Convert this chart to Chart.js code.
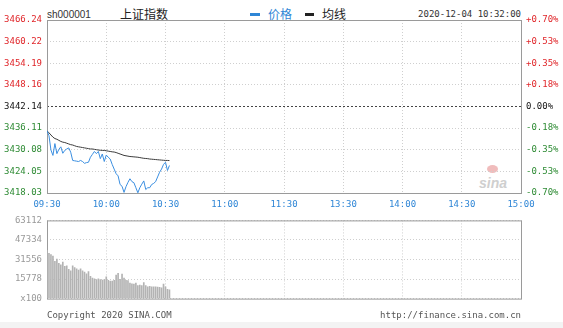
<!DOCTYPE html>
<html>
<head>
<meta charset="utf-8">
<script src="https://cdn.jsdelivr.net/npm/chart.js@4.4.0/dist/chart.umd.min.js"></script>
<style>
  body { margin: 0; width: 563px; height: 328px; background: #fff; position: relative; overflow: hidden; }
  canvas { position: absolute; left: 0; }
  .t { position: absolute; white-space: nowrap; line-height: 1; }
  .mono { font-family: 'DejaVu Sans Mono', monospace; font-size: 9px; }
</style>
</head>
<body>
<div class="t" style="left:47px;top:10px;font-family:'Liberation Sans';font-size:10px;color:#333">sh000001</div>
<div class="t" style="left:120px;top:8px;font-family:'Noto Sans CJK SC';font-size:12px;color:#222">上证指数</div>
<div class="t" style="left:250px;top:13px;width:10px;height:3px;background:#2f86d6"></div>
<div class="t" style="left:268px;top:8px;font-family:'Noto Sans CJK SC';font-size:12px;color:#2f86d6">价格</div>
<div class="t" style="left:305px;top:13px;width:9px;height:3px;background:#222"></div>
<div class="t" style="left:322px;top:8px;font-family:'Noto Sans CJK SC';font-size:12px;color:#222">均线</div>
<div class="t mono" style="right:42px;top:10px;color:#333">2020-12-04 10:32:00</div>
<div class="t" style="left:479px;top:176px;font-family:'Liberation Sans';font-style:italic;font-weight:bold;font-size:14px;color:#cfcfcf">sina</div>
<div class="t" style="left:487px;top:165px;width:11px;height:8px;border-radius:50%;background:#f0bcbc"></div>
<canvas id="price" width="563" height="213" style="top:0"></canvas>
<canvas id="vol" width="563" height="99" style="top:210px"></canvas>
<div class="t mono" style="left:47px;top:311px;color:#555">Copyright 2020 SINA.COM</div>
<div class="t mono" style="right:42px;top:311px;color:#555">http://finance.sina.com.cn</div>
<div class="t" style="left:0;top:322px;width:563px;height:6px;background:#f3f3f3"></div>
<script>
const basePrice = 3442.14;
const priceTicks = [3418.03, 3424.05, 3430.08, 3436.11, 3442.14, 3448.16, 3454.19, 3460.22, 3466.24];
const pctLabels = ['-0.70%', '-0.53%', '-0.35%', '-0.18%', '0.00%', '+0.18%', '+0.35%', '+0.53%', '+0.70%'];
const timeTicks = [0, 30, 60, 90, 120, 150, 180, 210, 240];
const timeLabels = ['09:30', '10:00', '10:30', '11:00', '11:30', '13:30', '14:00', '14:30', '15:00'];
const volTicks = [0, 15778, 31556, 47334, 63112];
const volLabels = ['x100', '15778', '31556', '47334', '63112'];

// one value per minute from 09:30 to 10:32
const price = [
  3435.35, 3434.0, 3430.0, 3428.5, 3431.8, 3429.0, 3430.2, 3430.9, 3429.1, 3429.9,
  3430.3, 3430.6, 3429.4, 3427.1, 3427.0, 3426.9, 3426.8, 3427.1, 3426.8, 3426.3,
  3426.5, 3426.6, 3428.0, 3428.8, 3429.6, 3429.0, 3429.6, 3427.6, 3428.9, 3426.8,
  3428.6, 3428.0, 3427.5, 3426.0, 3424.7, 3423.4, 3422.8, 3420.4, 3419.9, 3418.2,
  3419.8, 3421.0, 3422.0, 3421.2, 3420.9, 3419.5, 3418.1, 3419.5, 3420.5, 3421.4,
  3419.0, 3419.5, 3419.5, 3420.4, 3420.7, 3421.2, 3422.5, 3423.8, 3424.7, 3426.0,
  3426.6, 3424.3, 3425.7
];
const avgPrice = [
  3435.35, 3434.8, 3434.2, 3433.6, 3433.2, 3433.0, 3432.7, 3432.4, 3432.2, 3432.1,
  3431.9, 3431.7, 3431.5, 3431.4, 3431.2, 3431.0, 3430.9, 3430.8, 3430.7, 3430.6,
  3430.5, 3430.4, 3430.3, 3430.3, 3430.2, 3430.1, 3430.0, 3429.95, 3429.9, 3429.9,
  3429.8, 3429.7, 3429.6, 3429.5, 3429.45, 3429.3, 3429.1, 3428.9, 3428.7, 3428.5,
  3428.4, 3428.3, 3428.2, 3428.15, 3428.1, 3428.05, 3428.0, 3427.9, 3427.8, 3427.7,
  3427.65, 3427.6, 3427.5, 3427.45, 3427.4, 3427.35, 3427.3, 3427.25, 3427.2, 3427.15,
  3427.1, 3427.1, 3427.07
];
const volume = [
  39000, 36600, 35500, 34300, 30000, 31900, 28400, 27200, 29500, 26000,
  26500, 23600, 22500, 26500, 25000, 24000, 23000, 24000, 22500, 21500,
  20000, 21800, 18000, 16600, 16000, 15400, 16000, 15400, 15000, 15400,
  17600, 14800, 14200, 14200, 14800, 19000, 20300, 15500, 19700, 16500,
  14800, 14500, 12500, 12000, 11800, 12500, 10600, 11000, 10600, 13000,
  10600, 9500, 10000, 9500, 9500, 9400, 9200, 9000, 8700, 11800,
  9500, 7500, 7000
];

const RED = '#e0262a';
const GREEN = '#2e8b34';
const BLUE = '#2f86d6';
const tickFont = { family: 'DejaVu Sans Mono', size: 9 };

// solid box round the plot area
const frame = {
  id: 'frame',
  beforeDatasetsDraw(chart) {
    const { ctx, chartArea: a } = chart;
    ctx.save();
    ctx.strokeStyle = '#9a9a9a';
    ctx.lineWidth = 1;
    ctx.strokeRect(a.left + 0.5, a.top + 0.5, a.right - a.left, a.bottom - a.top);
    ctx.restore();
  },
};

const isBase = (v) => Math.abs(v - basePrice) < 0.001;

new Chart(document.getElementById('price'), {
  type: 'line',
  data: {
    datasets: [
      {
        label: '价格',
        data: price.map((v, i) => ({ x: i, y: v })),
        borderColor: '#3a8ee0',
        borderWidth: 1,
        pointRadius: 0,
        tension: 0,
      },
      {
        label: '均线',
        data: avgPrice.map((v, i) => ({ x: i, y: v })),
        borderColor: '#3a3a3a',
        borderWidth: 1,
        pointRadius: 0,
        tension: 0,
      },
    ],
  },
  options: {
    responsive: false,
    animation: false,
    devicePixelRatio: 1,
    layout: { padding: { top: 20, left: 0, right: 0, bottom: 0 } },
    plugins: { legend: { display: false }, tooltip: { enabled: false } },
    scales: {
      x: {
        type: 'linear',
        min: 0,
        max: 240,
        afterBuildTicks: (s) => { s.ticks = timeTicks.map((v) => ({ value: v })); },
        afterFit: (s) => { s.height = 20; },
        ticks: {
          autoSkip: false,
          maxRotation: 0,
          padding: 6,
          color: BLUE,
          font: tickFont,
          callback: (v, i) => timeLabels[i],
        },
        grid: { color: '#cfcfcf', drawTicks: false },
        border: { display: false, dash: [1, 2] },
      },
      y: {
        min: priceTicks[0],
        max: priceTicks[priceTicks.length - 1],
        afterBuildTicks: (s) => { s.ticks = priceTicks.map((v) => ({ value: v })); },
        afterFit: (s) => { s.width = 47; },
        ticks: {
          padding: 5,
          font: tickFont,
          color: (c) => (isBase(c.tick.value) ? '#111' : c.tick.value > basePrice ? RED : GREEN),
          callback: (v) => v.toFixed(2),
        },
        grid: {
          drawTicks: false,
          color: (c) => (isBase(c.tick.value) ? '#444' : '#cfcfcf'),
        },
        border: { display: false, dash: (c) => (isBase(c.tick.value) ? [2, 2] : [1, 2]) },
      },
      y1: {
        position: 'right',
        min: -4,
        max: 4,
        afterBuildTicks: (s) => { s.ticks = pctLabels.map((l, i) => ({ value: i - 4 })); },
        afterFit: (s) => { s.width = 42; },
        ticks: {
          padding: 5,
          font: tickFont,
          color: (c) => (c.index === 4 ? '#111' : c.index > 4 ? RED : GREEN),
          callback: (v, i) => pctLabels[i],
        },
        grid: { display: false, drawTicks: false },
        border: { display: false },
      },
    },
  },
  plugins: [frame],
});

new Chart(document.getElementById('vol'), {
  type: 'bar',
  data: {
    datasets: [{
      label: 'volume',
      data: volume.map((v, i) => ({ x: i, y: v })),
      backgroundColor: '#b3b3b3',
      barThickness: 1,
    }],
  },
  options: {
    responsive: false,
    animation: false,
    devicePixelRatio: 1,
    layout: { padding: { top: 10, left: 0, right: 42, bottom: 0 } },
    plugins: { legend: { display: false }, tooltip: { enabled: false } },
    scales: {
      x: {
        type: 'linear',
        min: 0,
        max: 240,
        offset: false,
        afterBuildTicks: (s) => { s.ticks = timeTicks.map((v) => ({ value: v })); },
        afterFit: (s) => { s.height = 0; },
        ticks: { display: false },
        grid: { color: '#cfcfcf', drawTicks: false, offset: false },
        border: { display: false, dash: [1, 2] },
      },
      y: {
        min: 0,
        max: volTicks[volTicks.length - 1],
        afterBuildTicks: (s) => { s.ticks = volTicks.map((v) => ({ value: v })); },
        afterFit: (s) => { s.width = 47; },
        ticks: {
          padding: 5,
          font: tickFont,
          color: '#999',
          callback: (v, i) => volLabels[i],
        },
        grid: { color: '#cfcfcf', drawTicks: false },
        border: { display: false, dash: [1, 2] },
      },
    },
  },
  plugins: [frame],
});
</script>
</body>
</html>
